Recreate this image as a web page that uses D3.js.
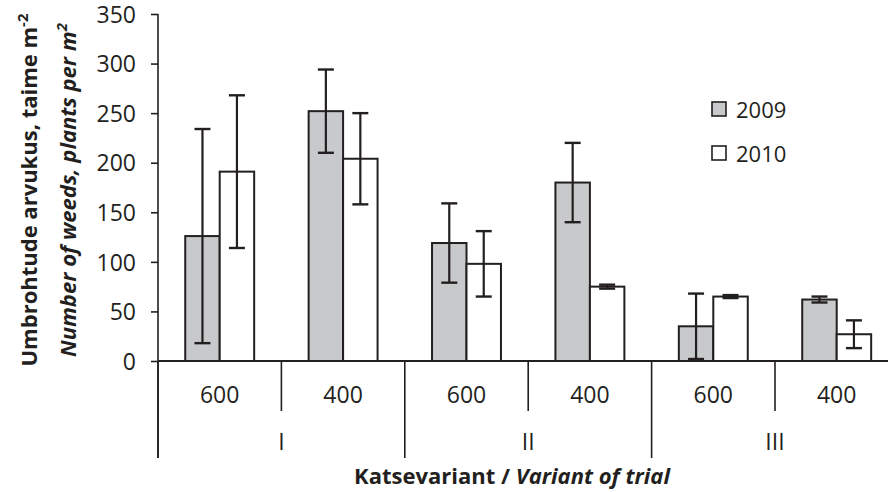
<!DOCTYPE html>
<meta charset="utf-8">
<style>
body { margin: 0; background: #fff; }
svg text { font-family: "Open Sans", sans-serif; fill: #231f20; }
.axis line, .axis path { stroke: #231f20; }
</style>
<svg id="chart" width="888" height="492"></svg>
<script src="https://d3js.org/d3.v7.min.js"></script>
<script>

// data
var categories = ["600", "400", "600", "400", "600", "400"];
var groups = ["I", "II", "III"];
var years = ["2009", "2010"];
var values2009 = [126, 252, 119, 180, 35, 62];
var errors2009 = [108, 42, 40, 40, 33, 3];
var values2010 = [191, 204, 98, 75, 65, 27];
var errors2010 = [77, 46, 33, 2, 1.5, 14];
var yTicks = [0, 50, 100, 150, 200, 250, 300, 350];

var svg = d3.select("#chart");
var ink = "#231f20";
var fills = { "2009": "#c8c9cb", "2010": "#ffffff" };

var x0 = 158, step = 123.4, base = 361;

var x = d3.scaleBand()
    .domain(d3.range(categories.length))
    .range([x0, x0 + step * categories.length])
    .padding(0);

var xYear = d3.scaleBand()
    .domain(years)
    .range([0, x.bandwidth()])
    .paddingInner(0)
    .paddingOuter(0.79);

var y = d3.scaleLinear().domain([0, 350]).range([base, 14]);

var rows = categories.map(function(c, i) {
  return [
    { i: i, year: "2009", v: values2009[i], e: errors2009[i] },
    { i: i, year: "2010", v: values2010[i], e: errors2010[i] }
  ];
});
var bars = d3.merge(rows);

// y axis
var yAxis = svg.append("g")
    .attr("class", "axis")
    .attr("transform", "translate(" + x0 + ",0)")
    .call(d3.axisLeft(y).tickValues(yTicks).tickSize(7).tickPadding(15));
yAxis.select(".domain").remove();
yAxis.selectAll("line").attr("stroke-width", 1.6);
yAxis.selectAll("text")
    .style("font-size", "23px")
    .style("font-family", "'Open Sans', sans-serif")
    .attr("fill", ink)
    .attr("dy", "0.36em");

svg.append("line")
    .attr("x1", x0).attr("x2", x0)
    .attr("y1", y(350)).attr("y2", 458)
    .attr("stroke", ink).attr("stroke-width", 1.6);

// bars
svg.append("g").selectAll("rect")
    .data(bars)
  .enter().append("rect")
    .attr("x", function(d) { return x(d.i) + xYear(d.year); })
    .attr("y", function(d) { return y(d.v); })
    .attr("width", xYear.bandwidth())
    .attr("height", function(d) { return y(0) - y(d.v); })
    .attr("fill", function(d) { return fills[d.year]; })
    .attr("stroke", ink)
    .attr("stroke-width", 2);

// error bars
var err = svg.append("g").selectAll("g")
    .data(bars)
  .enter().append("g")
    .attr("transform", function(d) {
      return "translate(" + (x(d.i) + xYear(d.year) + xYear.bandwidth() / 2) + ",0)";
    });
err.append("line")
    .attr("y1", function(d) { return y(d.v + d.e); })
    .attr("y2", function(d) { return y(Math.max(0, d.v - d.e)); })
    .attr("stroke", ink).attr("stroke-width", 2.2);
err.append("line")
    .attr("x1", -8).attr("x2", 8)
    .attr("y1", function(d) { return y(d.v + d.e); })
    .attr("y2", function(d) { return y(d.v + d.e); })
    .attr("stroke", ink).attr("stroke-width", 2.4);
err.append("line")
    .attr("x1", -8).attr("x2", 8)
    .attr("y1", function(d) { return y(Math.max(0, d.v - d.e)); })
    .attr("y2", function(d) { return y(Math.max(0, d.v - d.e)); })
    .attr("stroke", ink).attr("stroke-width", 2.4);

// x axis baseline
svg.append("line")
    .attr("x1", x0).attr("x2", 888)
    .attr("y1", base).attr("y2", base)
    .attr("stroke", ink).attr("stroke-width", 2);

// separators between categories
var bounds = d3.range(categories.length + 1);
svg.append("g").selectAll("line")
    .data(bounds)
  .enter().append("line")
    .attr("x1", function(d) { return x0 + d * x.step(); })
    .attr("x2", function(d) { return x0 + d * x.step(); })
    .attr("y1", base)
    .attr("y2", function(d) { return d % 2 === 0 ? 458 : 411; })
    .attr("stroke", ink).attr("stroke-width", 1.6);

// category labels
svg.append("g").selectAll("text")
    .data(categories)
  .enter().append("text")
    .attr("x", function(d, i) { return x(i) + x.bandwidth() / 2; })
    .attr("y", 403)
    .attr("text-anchor", "middle")
    .style("font-size", "23px")
    .text(function(d) { return d; });

// group labels
svg.append("g").selectAll("text")
    .data(groups)
  .enter().append("text")
    .attr("x", function(d, i) { return x0 + (2 * i + 1) * x.step(); })
    .attr("y", 450)
    .attr("text-anchor", "middle")
    .style("font-size", "23px")
    .text(function(d) { return d; });

// x axis title
var xt = svg.append("text")
    .attr("x", 512).attr("y", 484)
    .attr("text-anchor", "middle")
    .style("font-size", "22px")
    .style("font-weight", "bold");
xt.append("tspan").text("Katsevariant / ");
xt.append("tspan").style("font-style", "italic").text("Variant of trial");

// y axis titles
var yt1 = svg.append("text")
    .attr("transform", "translate(37,190) rotate(-90)")
    .attr("text-anchor", "middle")
    .style("font-size", "22px")
    .style("font-weight", "bold");
yt1.append("tspan").text("Umbrohtude arvukus, taime m");
yt1.append("tspan").attr("dy", -9).style("font-size", "15px").text("-2");

var yt2 = svg.append("text")
    .attr("transform", "translate(76,190) rotate(-90)")
    .attr("text-anchor", "middle")
    .style("font-size", "22px")
    .style("font-weight", "bold")
    .style("font-style", "italic");
yt2.append("tspan").text("Number of weeds, plants per m");
yt2.append("tspan").attr("dy", -9).style("font-size", "15px").text("2");

// legend
var legend = svg.append("g").selectAll("g")
    .data(years)
  .enter().append("g")
    .attr("transform", function(d, i) { return "translate(712," + (102 + i * 44) + ")"; });
legend.append("rect")
    .attr("width", 14).attr("height", 14)
    .attr("fill", function(d) { return fills[d]; })
    .attr("stroke", ink).attr("stroke-width", 1.6);
legend.append("text")
    .attr("x", 24).attr("y", 16)
    .style("font-size", "22px")
    .text(function(d) { return d; });

</script>
